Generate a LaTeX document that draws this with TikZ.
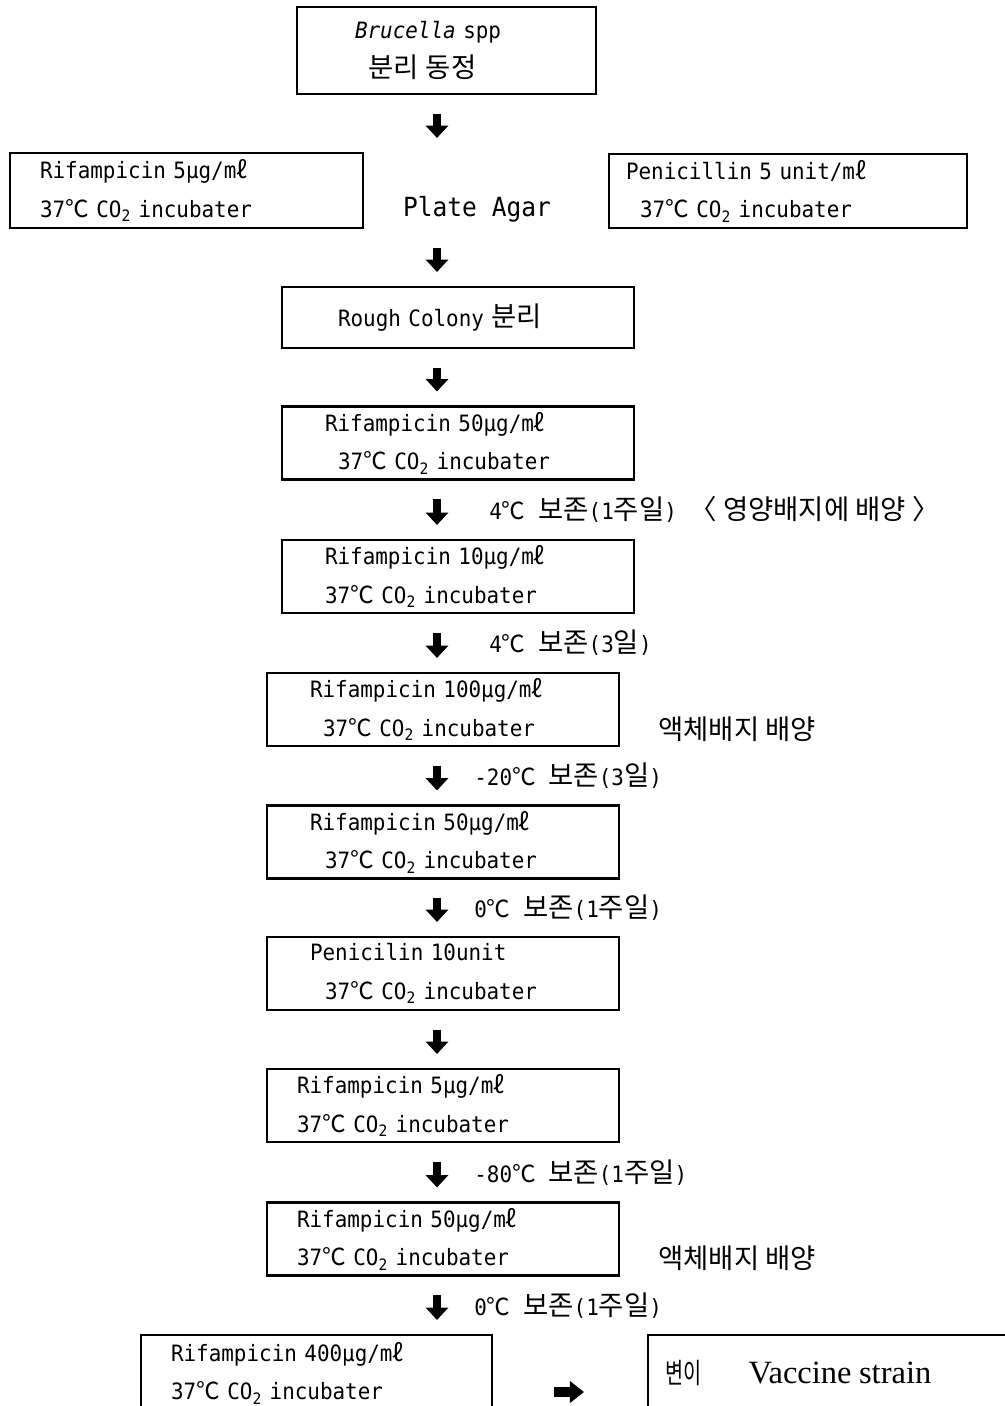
\documentclass[tikz,border=0pt]{standalone}
\usepackage{fontspec}
\setmainfont{DejaVu Sans Mono}[FakeStretch=0.93]
\newfontfamily\kor{Noto Sans CJK KR}[Scale=1.22]
\newfontfamily\korsym{Noto Sans CJK KR}[Scale=1.05]
\newfontfamily\korn{Noto Sans CJK KR}[FakeStretch=0.7]
\newfontfamily\vacc{Liberation Serif}
\newcommand\dg{{\korsym ℃}}
\newcommand\mlit{m{\korsym ℓ}}
\usetikzlibrary{arrows.meta,positioning}

\begin{document}
\begin{tikzpicture}[x=0.02cm, y=-0.02cm,
    every node/.style={font=\fontsize{12.8}{22}\selectfont},
    stage/.style={draw, line width=1.2pt, align=left, inner ysep=0pt, minimum height=1.46cm},
    wide/.style={inner xsep=0.86cm, text width=5.32cm},
    near/.style={inner xsep=0.6cm, text width=5.84cm},
    lbl/.style={anchor=west, inner sep=0pt},
    dn/.style={line width=5pt, -{Triangle[width=12.5pt,length=7pt]}, shorten <=0.37cm, shorten >=0.28cm},
    rt/.style={line width=5.5pt, -{Triangle[width=12pt,length=8pt]}, shorten <=1.22cm, shorten >=1.26cm}
]
\useasboundingbox (0,0) rectangle (1004,1406);
\coordinate (ax) at (437,0);
\coordinate (ra) at (0,1392);

\node[stage, minimum height=1.74cm, inner xsep=1.16cm, text width=3.66cm] (top) at (446.5,50.5)
    {\textit{Brucella} spp\\\hspace*{0.26cm}{\kor 분리 동정}};
\node[stage, minimum height=1.5cm, inner xsep=0.6cm, text width=5.86cm] (lrif) at (186.5,190.5)
    {Rifampicin 5μg/\mlit\\37\dg{} CO\textsubscript{2} incubater};
\node[font=\fontsize{15}{18}\selectfont] (plate) at (477,209) {Plate Agar};
\node[stage, minimum height=1.48cm, inner xsep=0.34cm, text width=6.48cm] (rpen) at (788,191)
    {Penicillin 5 unit/\mlit\\\hspace*{0.28cm}37\dg{} CO\textsubscript{2} incubater};

\node[stage, minimum height=1.22cm, inner xsep=1.12cm, text width=4.8cm] (rough) at (458,317.5)
    {Rough Colony {\kor 분리}};
\node[stage, wide] (b4) at (458,443)
    {Rifampicin 50μg/\mlit\\\hspace*{0.26cm}37\dg{} CO\textsubscript{2} incubater};
\node[stage, wide] (b5) at (458,576.5)
    {Rifampicin 10μg/\mlit\\37\dg{} CO\textsubscript{2} incubater};
\node[stage, wide] (b6) at (443,709.5)
    {Rifampicin 100μg/\mlit\\\hspace*{0.26cm}37\dg{} CO\textsubscript{2} incubater};
\node[stage, wide] (b7) at (443,842)
    {Rifampicin 50μg/\mlit\\\hspace*{0.3cm}37\dg{} CO\textsubscript{2} incubater};
\node[stage, wide] (b8) at (443,973.5)
    {Penicilin 10unit\\\hspace*{0.3cm}37\dg{} CO\textsubscript{2} incubater};
\node[stage, near] (b9) at (443,1105.5)
    {Rifampicin 5μg/\mlit\\37\dg{} CO\textsubscript{2} incubater};
\node[stage, near] (b10) at (443,1239)
    {Rifampicin 50μg/\mlit\\37\dg{} CO\textsubscript{2} incubater};
\node[stage, minimum height=1.52cm, inner xsep=0.6cm, text width=5.82cm] (b11) at (316.5,1373)
    {Rifampicin 400μg/\mlit\\37\dg{} CO\textsubscript{2} incubater};
\node[stage, minimum height=1.52cm, inner xsep=0.34cm, text width=7.16cm] (b12) at (844,1373)
    {{\korn\fontsize{16}{18}\selectfont 변이}\hspace{0.95cm}{\vacc\fontsize{18.5}{20}\selectfont Vaccine strain}};

\node[lbl, right=0.76cm of b6.east, yshift=-0.39cm] (liq1) {\kor 액체배지 배양};
\node[lbl, right=0.76cm of b10.east, yshift=-0.38cm] (liq2) {\kor 액체배지 배양};

\draw[dn] (top.south -| ax) -- (lrif.north -| ax);
\draw[dn] (lrif.south -| ax) -- (rough.north -| ax);
\draw[dn] (rough.south -| ax) -- (b4.north -| ax);
\draw[dn] (b4.south -| ax) -- (b5.north -| ax)
    node[lbl, midway, xshift=0.96cm] {4\dg{} {\kor 보존}(1{\kor 주일}) {\kor 〈 영양배지에 배양 〉}};
\draw[dn] (b5.south -| ax) -- (b6.north -| ax)
    node[lbl, midway, xshift=0.96cm] {4\dg{} {\kor 보존}(3{\kor 일})};
\draw[dn] (b6.south -| ax) -- (b7.north -| ax)
    node[lbl, midway, xshift=0.66cm] {-20\dg{} {\kor 보존}(3{\kor 일})};
\draw[dn] (b7.south -| ax) -- (b8.north -| ax)
    node[lbl, midway, xshift=0.66cm] {0\dg{} {\kor 보존}(1{\kor 주일})};
\draw[dn] (b8.south -| ax) -- (b9.north -| ax);
\draw[dn] (b9.south -| ax) -- (b10.north -| ax)
    node[lbl, midway, xshift=0.66cm] {-80\dg{} {\kor 보존}(1{\kor 주일})};
\draw[dn] (b10.south -| ax) -- (b11.north -| ax)
    node[lbl, midway, xshift=0.66cm] {0\dg{} {\kor 보존}(1{\kor 주일})};
\draw[rt] (b11.east |- ra) -- (b12.west |- ra);
\end{tikzpicture}
\end{document}
